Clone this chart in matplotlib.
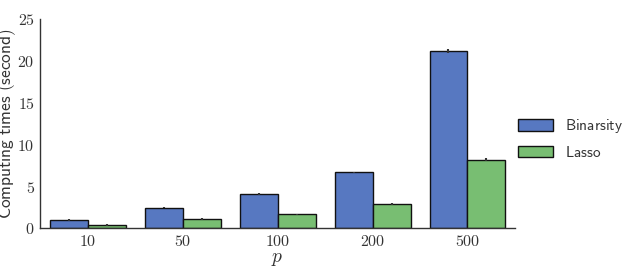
import matplotlib
matplotlib.use('Agg')
import matplotlib.pyplot as plt
import numpy as np

# values
P_VALUES = ['10', '50', '100', '200', '500']
BINARSITY = [0.97, 2.5, 4.1, 6.7, 21.2]
BINARSITY_ERR = [0.12, 0.1, 0.1, 0.08, 0.25]
LASSO = [0.42, 1.15, 1.7, 2.9, 8.2]
LASSO_ERR = [0.08, 0.1, 0.08, 0.1, 0.2]
SERIES = ['Binarsity', 'Lasso']

BLUE = '#5778C1'
GREEN = '#78BE72'
GRAY = '#333333'

plt.rcParams['mathtext.fontset'] = 'cm'

fig = plt.figure(figsize=(6.28, 2.72), dpi=100)
ax = fig.add_axes([0.064, 0.16, 0.756, 0.77])

x = np.arange(len(P_VALUES))
w = 0.4
ax.bar(x - w / 2, BINARSITY, w, color=BLUE, edgecolor='#111111', linewidth=1,
       label=r'$\mathsf{%s}$' % SERIES[0])
ax.bar(x + w / 2, LASSO, w, color=GREEN, edgecolor='#111111', linewidth=1,
       label=r'$\mathsf{%s}$' % SERIES[1])
ax.errorbar(x - w / 2, BINARSITY, yerr=BINARSITY_ERR, fmt='none', ecolor='#333333', elinewidth=1.5)
ax.errorbar(x + w / 2, LASSO, yerr=LASSO_ERR, fmt='none', ecolor='#333333', elinewidth=1.5)

ax.set_xlim(-0.5, len(P_VALUES) - 0.5)
ax.set_ylim(0, 25)
ax.set_xticks(x)
ax.set_xticklabels([r'$%s$' % p for p in P_VALUES])
ax.set_yticks(range(0, 26, 5))
ax.set_yticklabels([r'$%d$' % v for v in range(0, 26, 5)])
ax.tick_params(length=0, labelsize=11.5, colors='#333333', pad=4)

ax.set_xlabel(r'$p$', fontsize=14, color='#333333', labelpad=0)
ax.set_ylabel(r'$\mathsf{Computing\ times\ (second)}$', fontsize=12.5, color='#333333')
ax.yaxis.set_label_coords(-0.047, 0.5)

for side in ['top', 'right']:
    ax.spines[side].set_visible(False)
for side in ['left', 'bottom']:
    ax.spines[side].set_color(GRAY)
    ax.spines[side].set_linewidth(1)

leg = ax.legend(loc='center left', bbox_to_anchor=(1.0, 0.43), frameon=False,
                fontsize=11, handlelength=2.3, handleheight=0.75, labelspacing=0.6,
                borderaxespad=0.1, borderpad=0.1, handletextpad=0.8)
for t in leg.get_texts():
    t.set_color('#333333')

fig.savefig('out.png', dpi=100)
